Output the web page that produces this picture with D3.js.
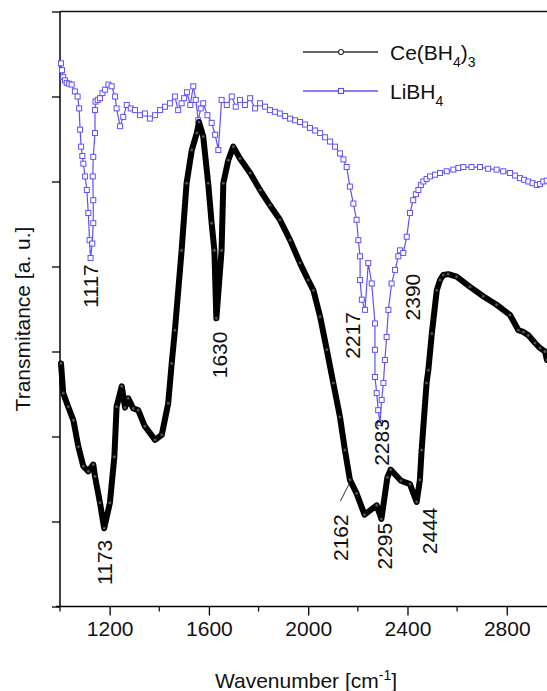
<!DOCTYPE html>
<html>
<head>
<meta charset="utf-8">
<script src="https://cdn.jsdelivr.net/npm/d3@7"></script>
<style>
  body { margin: 0; background: #fff; }
  svg text { font-family: "Liberation Sans", Arial, sans-serif; fill: #111; }
</style>
</head>
<body>
<div id="chart"></div>
<script>
// Ce(BH4)3 spectrum (wavenumber, transmitance in tick units)
const ceWave = [1004, 1013, 1033, 1054, 1074, 1094, 1114, 1134, 1141, 1161, 1178, 1201, 1219, 1228,
    1249, 1262, 1275, 1295, 1315, 1342, 1383, 1410, 1436, 1450, 1463, 1490, 1510, 1531, 1551, 1560,
    1577, 1597, 1611, 1622, 1630, 1651, 1658, 1678, 1698, 1725, 1766, 1806, 1846, 1886, 1927, 1967,
    2000, 2021, 2048, 2075, 2101, 2128, 2148, 2168, 2195, 2227, 2276, 2295, 2319, 2332, 2374, 2410,
    2437, 2450, 2457, 2477, 2484, 2498, 2518, 2531, 2544, 2564, 2598, 2652, 2705, 2759, 2813, 2847,
    2867, 2887, 2914, 2934, 2954, 2962];
const ceTrans = [2.86, 2.51, 2.35, 2.19, 1.88, 1.65, 1.59, 1.67, 1.53, 1.22, 0.92, 1.22, 1.76, 2.35,
    2.59, 2.34, 2.45, 2.33, 2.31, 2.12, 1.96, 2.02, 2.39, 2.86, 3.25, 4.19, 4.98, 5.37, 5.57, 5.70,
    5.53, 4.98, 4.51, 4.19, 3.39, 4.19, 4.98, 5.25, 5.41, 5.27, 5.10, 4.90, 4.72, 4.55, 4.31, 4.04,
    3.84, 3.72, 3.41, 3.02, 2.63, 2.23, 1.84, 1.49, 1.33, 1.08, 1.19, 1.03, 1.52, 1.61, 1.48, 1.44,
    1.23, 1.49, 1.84, 2.63, 2.78, 3.21, 3.72, 3.84, 3.90, 3.91, 3.88, 3.76, 3.65, 3.55, 3.43, 3.25,
    3.23, 3.19, 3.10, 3.04, 3.00, 2.90];

// LiBH4 spectrum
const liWave = [1004, 1008, 1013, 1020, 1027, 1037, 1047, 1060, 1071, 1077, 1081, 1085, 1090, 1094,
    1101, 1108, 1114, 1119, 1123, 1130, 1134, 1134, 1132, 1134, 1141, 1141, 1143, 1152, 1161, 1171,
    1181, 1195, 1208, 1222, 1228, 1242, 1255, 1269, 1285, 1302, 1322, 1342, 1362, 1383, 1403, 1423,
    1443, 1463, 1476, 1490, 1500, 1512, 1525, 1537, 1547, 1557, 1567, 1577, 1594, 1611, 1625, 1638,
    1651, 1672, 1692, 1708, 1725, 1745, 1766, 1786, 1806, 1826, 1846, 1866, 1886, 1907, 1927, 1947,
    1967, 1987, 2007, 2028, 2048, 2068, 2088, 2108, 2128, 2142, 2155, 2168, 2182, 2195, 2202, 2209,
    2209, 2216, 2229, 2242, 2256, 2269, 2269, 2269, 2276, 2282, 2289, 2296, 2303, 2309, 2316, 2323,
    2336, 2350, 2363, 2370, 2383, 2397, 2410, 2423, 2434, 2444, 2454, 2464, 2477, 2491, 2511, 2531,
    2558, 2585, 2605, 2625, 2658, 2692, 2725, 2759, 2786, 2813, 2833, 2853, 2870, 2887, 2904, 2921,
    2934, 2947, 2961];
const liTrans = [6.39, 6.31, 6.23, 6.19, 6.16, 6.15, 6.14, 6.06, 6.00, 5.86, 5.61, 5.41, 5.30, 5.21,
    5.06, 4.90, 4.63, 4.31, 4.10, 4.27, 4.51, 4.78, 5.06, 5.29, 5.57, 5.84, 5.94, 5.96, 5.98, 6.04,
    6.08, 6.14, 6.12, 6.00, 5.86, 5.65, 5.76, 5.90, 5.86, 5.84, 5.78, 5.80, 5.74, 5.78, 5.84, 5.88,
    5.92, 6.00, 5.84, 5.92, 5.98, 6.05, 5.90, 6.12, 5.96, 5.72, 5.86, 5.92, 5.78, 5.69, 5.55, 5.37,
    5.96, 5.90, 6.00, 5.88, 5.96, 5.90, 5.98, 5.86, 5.92, 5.88, 5.84, 5.82, 5.80, 5.77, 5.74, 5.72,
    5.70, 5.67, 5.63, 5.60, 5.57, 5.52, 5.47, 5.41, 5.33, 5.26, 5.17, 4.94, 4.74, 4.55, 4.31, 4.12,
    3.84, 3.61, 3.49, 4.04, 3.80, 3.33, 3.02, 2.70, 2.51, 2.31, 2.16, 2.43, 2.63, 2.90, 3.17, 3.49,
    3.80, 3.96, 4.12, 4.19, 4.16, 4.35, 4.63, 4.78, 4.85, 4.90, 4.96, 5.00, 5.03, 5.06, 5.08, 5.10,
    5.12, 5.14, 5.16, 5.17, 5.17, 5.17, 5.15, 5.14, 5.12, 5.10, 5.07, 5.04, 5.02, 5.00, 4.98, 4.96,
    4.97, 5.00, 5.01];

const seriesNames = ["Ce(BH4)3", "LiBH4"];

const majorTicks = [1200, 1600, 2000, 2400, 2800];
const minorTicks = [1000, 1400, 1800, 2200, 2600, 3000];
const yTicks = [0, 1, 2, 3, 4, 5, 6, 7];

// peak annotations: wavenumber and the height (tick units) of the label centre
const peakWave = [1117, 1630, 2217, 2390, 2283, 1173, 2162, 2295, 2444];
const peakLabelY = [3.77, 2.96, 3.19, 3.64, 1.93, 0.52, 0.81, 0.71, 0.89];
const peakLabelDx = [2, 3, -9, 8, 3, 2, -8, 3, 11];

const width = 547;
const height = 691;
const blue = "#5f52f5";

const svg = d3.select("#chart")
    .append("svg")
        .attr("width", width)
        .attr("height", height);

const x = d3.scaleLinear()
    .domain([1000, 3000])
    .range([60, 556.4]);

const y = d3.scaleLinear()
    .domain([0, 7])
    .range([606.5, 11.5]);

// frame: top line, left axis, bottom axis
svg.append("line")
    .attr("x1", x(1000)).attr("x2", width)
    .attr("y1", y(7)).attr("y2", y(7))
    .attr("stroke", "#111").attr("stroke-width", 1.5);

svg.append("g")
    .attr("transform", `translate(${x(1000)},0)`)
    .call(d3.axisLeft(y).tickValues(yTicks).tickSize(8).tickFormat(""))
    .call(g => g.select(".domain").attr("stroke-width", 1.5).attr("d", `M0,${y(0)}V${y(7)}`))
    .call(g => g.selectAll(".tick line").attr("stroke-width", 1.3));

const xAxis = svg.append("g")
    .attr("transform", `translate(0,${y(0)})`);

xAxis.call(d3.axisBottom(x).tickValues(majorTicks).tickSize(9).tickPadding(6).tickFormat(d3.format("d")))
    .call(g => g.select(".domain").attr("stroke-width", 1.5).attr("d", `M${x(1000) - 4},0H${width}`))
    .call(g => g.selectAll(".tick line").attr("stroke-width", 1.3))
    .call(g => g.selectAll(".tick text")
        .attr("font-size", 21)
        .attr("font-family", "Liberation Sans, Arial, sans-serif")
        .attr("fill", "#111"));

xAxis.selectAll(".minor")
    .data(minorTicks)
    .join("line")
        .attr("class", "minor")
        .attr("x1", d => x(d)).attr("x2", d => x(d))
        .attr("y1", 0).attr("y2", 5)
        .attr("stroke", "#111").attr("stroke-width", 1.3);

// curves
const line = (wave, trans) => d3.line()
    .x((d, i) => x(wave[i]))
    .y((d, i) => y(trans[i]))(wave);

svg.append("path")
    .attr("d", line(liWave, liTrans))
    .attr("fill", "none")
    .attr("stroke", blue)
    .attr("stroke-width", 1.2);

svg.selectAll(".li-mark")
    .data(liWave)
    .join("rect")
        .attr("class", "li-mark")
        .attr("x", (d, i) => x(d) - 2.5)
        .attr("y", (d, i) => y(liTrans[i]) - 2.5)
        .attr("width", 5)
        .attr("height", 5)
        .attr("fill", "#fff")
        .attr("stroke", blue)
        .attr("stroke-width", 1);

svg.append("path")
    .attr("d", line(ceWave, ceTrans))
    .attr("fill", "none")
    .attr("stroke", "#000")
    .attr("stroke-width", 6)
    .attr("stroke-linejoin", "round")
    .attr("stroke-linecap", "round");

svg.selectAll(".ce-mark")
    .data(ceWave)
    .join("circle")
        .attr("class", "ce-mark")
        .attr("cx", d => x(d))
        .attr("cy", (d, i) => y(ceTrans[i]))
        .attr("r", 1.8)
        .attr("fill", "#555")
        .attr("stroke", "#000")
        .attr("stroke-width", 0.6);

// peak labels
svg.selectAll(".peak")
    .data(peakWave)
    .join("text")
        .attr("class", "peak")
        .attr("transform", (d, i) => `translate(${x(d) + peakLabelDx[i]},${y(peakLabelY[i])}) rotate(-90)`)
        .attr("text-anchor", "middle")
        .attr("dy", "0.35em")
        .attr("font-size", 21)
        .text(d => d);

// leader line for the 2162 shoulder
svg.append("line")
    .attr("x1", x(2162) - 8).attr("y1", y(1.24))
    .attr("x2", x(2162) + 1).attr("y2", y(1.45))
    .attr("stroke", "#333").attr("stroke-width", 1);

// axis titles
svg.append("text")
    .attr("transform", "translate(30,319) rotate(-90)")
    .attr("text-anchor", "middle")
    .attr("font-size", 21)
    .text("Transmitance [a. u.]");

const xTitle = svg.append("text")
    .attr("x", 306)
    .attr("y", 688)
    .attr("text-anchor", "middle")
    .attr("font-size", 21);
xTitle.append("tspan").text("Wavenumber [cm");
xTitle.append("tspan").attr("font-size", 14).attr("dy", -8).text("-1");
xTitle.append("tspan").attr("dy", 8).text("]");

// legend
const legend = svg.append("g");
const legendY = [52, 91];
const legendColor = ["#333", blue];

seriesNames.forEach((name, i) => {
    const g = legend.append("g").attr("transform", `translate(0,${legendY[i]})`);
    g.append("line")
        .attr("x1", 303).attr("x2", 378)
        .attr("stroke", legendColor[i]).attr("stroke-width", 1.5);
    if (i === 0) {
        g.append("circle").attr("cx", 341).attr("r", 2.5)
            .attr("fill", "#fff").attr("stroke", "#333").attr("stroke-width", 1.2);
    } else {
        g.append("rect").attr("x", 338.5).attr("y", -2.5).attr("width", 5).attr("height", 5)
            .attr("fill", "#fff").attr("stroke", blue).attr("stroke-width", 1.2);
    }
    const t = g.append("text").attr("x", 390).attr("y", 8).attr("font-size", 21);
    const parts = name.match(/[A-Za-z(]+|\d|\)/g);
    let sub = false;
    parts.forEach(p => {
        const isDigit = /\d/.test(p);
        const span = t.append("tspan").text(p);
        if (isDigit && !sub) { span.attr("font-size", 14).attr("dy", 7); sub = true; }
        else if (isDigit && sub) { span.attr("font-size", 14); }
        else if (!isDigit && sub) { span.attr("dy", -7); sub = false; }
    });
});
</script>
</body>
</html>
